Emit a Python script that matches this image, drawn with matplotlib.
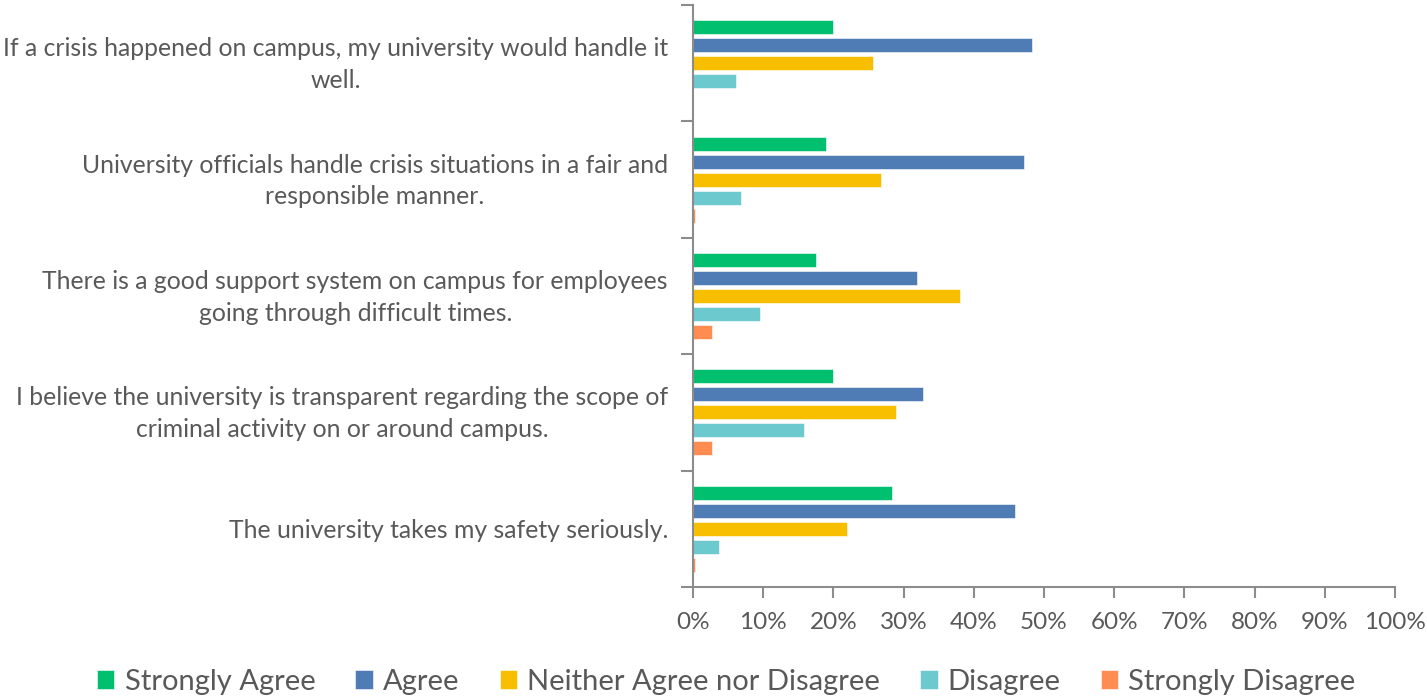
import numpy as np
import matplotlib.pyplot as plt
from matplotlib.transforms import ScaledTranslation

# survey statements, top to bottom as shown
statements = [
    "If a crisis happened on campus, my university would handle it\nwell.",
    "University officials handle crisis situations in a fair and\nresponsible manner.",
    "There is a good support system on campus for employees\ngoing through difficult times.",
    "I believe the university is transparent regarding the scope of\ncriminal activity on or around campus.",
    "The university takes my safety seriously.",
]
responses = ["Strongly Agree", "Agree", "Neither Agree nor Disagree", "Disagree", "Strongly Disagree"]

strongly_agree = [19.9, 18.9, 17.5, 19.9, 28.3]
agree = [48.3, 47.1, 31.9, 32.7, 45.8]
neither = [25.7, 26.8, 38.1, 28.9, 21.9]
disagree = [6.1, 6.8, 9.6, 15.8, 3.7]
strongly_disagree = [0.0, 0.3, 2.7, 2.7, 0.3]

colors = ["#00BF6F", "#4F7CB5", "#F8BE00", "#6CC9CD", "#FF8C50"]
grey = "#595959"
axis_grey = "#8C8C8C"

plt.rcParams['font.family'] = ['Lato', 'DejaVu Sans']

fig = plt.figure(figsize=(14.27, 6.98), dpi=100)
ax = fig.add_axes([0.4856, 0.159, 0.4920, 0.834])

y = np.arange(len(statements))
pitch = 0.1546
height = 0.12
series = [strongly_agree, agree, neither, disagree, strongly_disagree]
for k, (vals, col, name) in enumerate(zip(series, colors, responses)):
    offs = (k - 2) * pitch
    ax.barh(y + offs, vals, height=height, color=col, label=name,
            edgecolor="white", linewidth=0.4)

ax.set_ylim(len(statements) - 0.5, -0.5)
ax.set_xlim(0, 100)

# category labels between the boundary ticks
ax.set_yticks(np.arange(-0.5, len(statements) + 0.5, 1.0))
ax.set_yticklabels([])
ax.set_yticks(y, minor=True)
ax.set_yticklabels(statements, minor=True, fontsize=17.8, color=grey,
                   ha="right", multialignment="center", linespacing=1.45)
ax.tick_params(axis="y", which="minor", length=0, pad=18)
ax.tick_params(axis="y", which="major", length=9, width=1.5, color=axis_grey)

# nudge the two-line labels up a little
up = ScaledTranslation(0, 0.05, fig.dpi_scale_trans)
for lab in ax.get_yticklabels(minor=True):
    if "\n" in lab.get_text():
        lab.set_transform(lab.get_transform() + up)

ax.set_xticks(np.arange(0, 101, 10))
ax.set_xticklabels([f"{v}%" for v in range(0, 101, 10)], fontsize=17.5, color=grey)
ax.tick_params(axis="x", length=8, width=1.5, color=axis_grey, pad=10)

for s in ["top", "right"]:
    ax.spines[s].set_visible(False)
for s in ["left", "bottom"]:
    ax.spines[s].set_color(axis_grey)
    ax.spines[s].set_linewidth(1.5)

fig.legend(loc="center", bbox_to_anchor=(0.509, 0.023), ncol=5,
           frameon=False, fontsize=21, labelcolor=grey,
           handlelength=0.6, handleheight=0.6, handletextpad=0.35,
           columnspacing=1.37, borderpad=0)

fig.savefig("out.png", dpi=100)
